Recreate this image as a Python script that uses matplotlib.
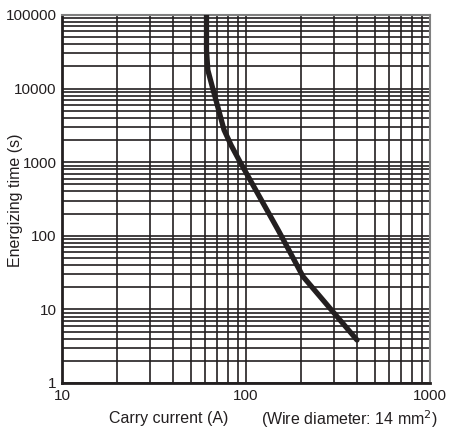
import numpy as np
import matplotlib
matplotlib.use('Agg')
import matplotlib.pyplot as plt
from matplotlib.ticker import FixedLocator

plt.rcParams['font.family'] = ['Liberation Sans', 'DejaVu Sans']

# curve
current = [61, 61, 62, 66, 72, 76, 83, 93, 150, 204, 401]
time_s = [100000, 33400, 17900, 10000, 4500, 2740, 1700, 1000, 118, 28, 3.84]

x_ticks = [10, 100, 1000]
y_ticks = [1, 10, 100, 1000, 10000, 100000]

ink = '#231f20'

fig = plt.figure(figsize=(4.51, 4.29), dpi=100)
ax = fig.add_axes([62 / 451, 1 - 383 / 429, 368 / 451, 368 / 429])

ax.set_xscale('log')
ax.set_yscale('log')
ax.set_xlim(10, 1000)
ax.set_ylim(1, 100000)

# grid at every 1..9 step of each decade
xg = [m * 10 ** d for d in (1, 2) for m in range(1, 10)] + [1000]
yg = [m * 10 ** d for d in range(5) for m in range(1, 10)] + [100000]
for v in xg:
    ax.axvline(v, color=ink, lw=1.2, zorder=1)
for v in yg:
    ax.axhline(v, color=ink, lw=1.2, zorder=1)

ax.plot(current, time_s, color=ink, lw=3.8, solid_capstyle='round',
        solid_joinstyle='round', zorder=3)

ax.xaxis.set_major_locator(FixedLocator(x_ticks))
ax.yaxis.set_major_locator(FixedLocator(y_ticks))
ax.xaxis.set_minor_locator(FixedLocator([]))
ax.yaxis.set_minor_locator(FixedLocator([]))
ax.set_xticklabels([str(v) for v in x_ticks])
ax.set_yticklabels([str(v) for v in y_ticks])
ax.tick_params(length=0, labelsize=11, colors=ink, pad=4)

for s in ('left', 'bottom'):
    ax.spines[s].set_linewidth(2)
    ax.spines[s].set_color(ink)
for s in ('top', 'right'):
    ax.spines[s].set_linewidth(1.5)
    ax.spines[s].set_color('#808080')

fig.text(16 / 451, 1 - 200 / 429, 'Energizing time (s)', fontsize=11.5,
         rotation=90, ha='center', va='center', color=ink)
fig.text(169 / 451, 1 - 419 / 429, 'Carry current (A)', fontsize=11.5,
         ha='center', va='center', color=ink)
fig.text(438 / 451, 1 - 419 / 429, '(Wire diameter: 14 mm$^2$)', fontsize=11.5,
         ha='right', va='center', color=ink)

fig.savefig('out.png', dpi=100)
